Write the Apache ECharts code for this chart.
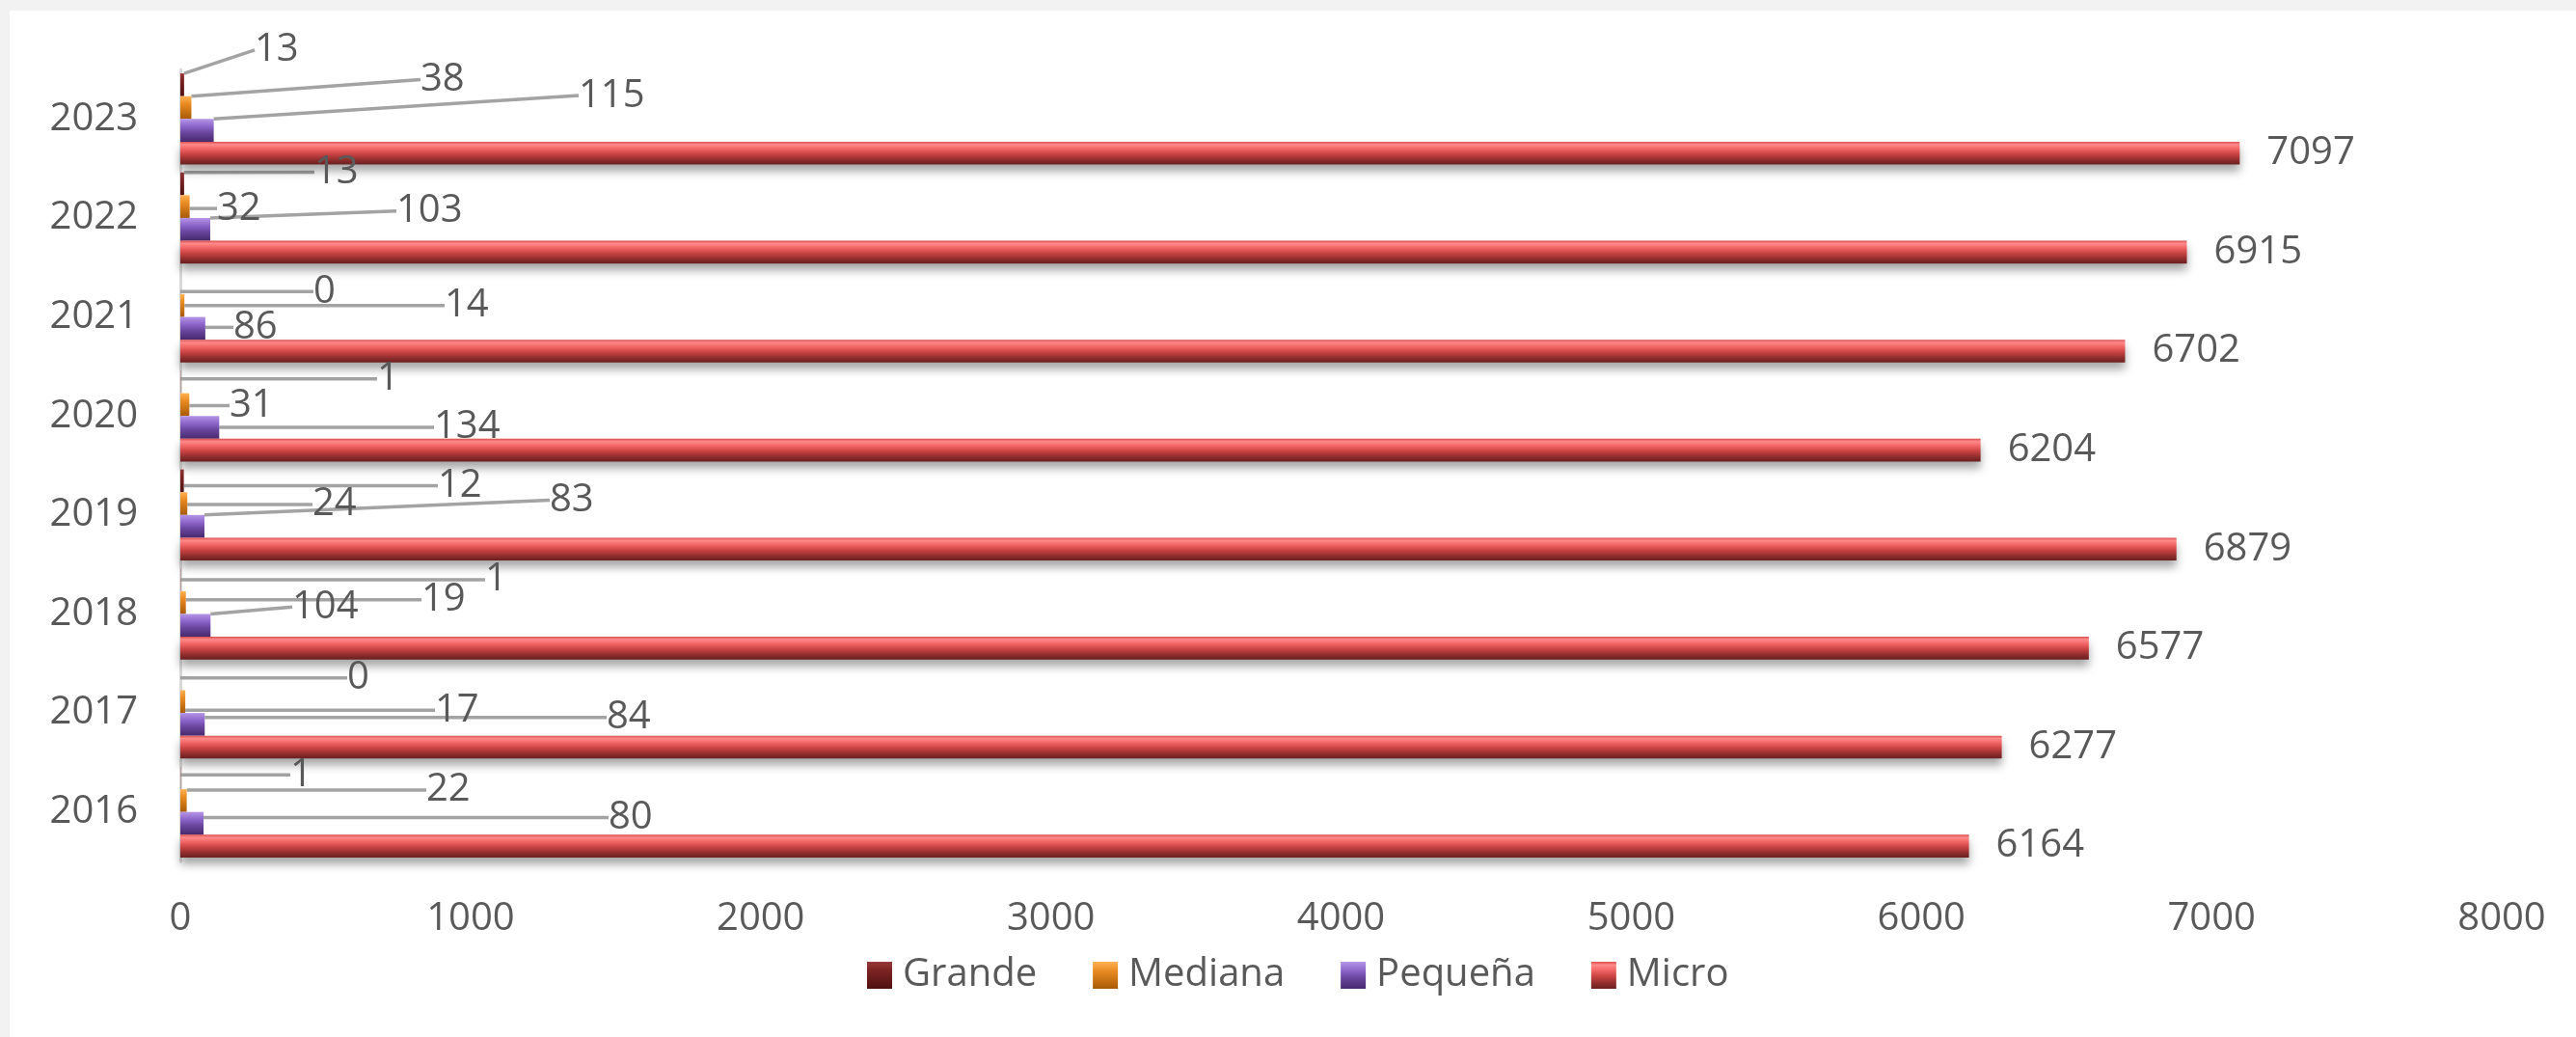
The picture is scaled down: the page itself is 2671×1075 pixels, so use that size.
<!DOCTYPE html>
<html><head><meta charset="utf-8">
<script src="https://cdn.jsdelivr.net/npm/echarts@6/dist/echarts.min.js"></script>
<style>
html,body{margin:0;padding:0;background:#f2f2f2;width:2671px;height:1075px;overflow:hidden}
#chart{position:absolute;left:10px;top:11px;width:2661px;height:1064px;background:#ffffff}
</style></head><body><div id="chart"></div>
<script>
const years = ['2016','2017','2018','2019','2020','2021','2022','2023'];
const grande = [1, 0, 1, 12, 1, 0, 13, 13];
const mediana = [22, 17, 19, 24, 31, 14, 32, 38];
const pequena = [80, 84, 104, 83, 134, 86, 103, 115];
const micro = [6164, 6277, 6577, 6879, 6204, 6702, 6915, 7097];
const seriesNames = ['Grande', 'Mediana', 'Pequeña', 'Micro'];

// label placement offsets (px from axis / from bar centre), per category
const grandeLblDx = [114, 173, 316, 267, 204, 138, 139, 77];
const grandeLblDy = [-3, -1, 0, 5, -3, 9, -12, -36];
const medianaLblDx = [255, 264, 250, 137, 51, 274, 38, 249];
const medianaLblDy = [-11, 9, -3, 1, 1, 0, 2, -29];
const pequenaLblDx = [444, 442, 116, 383, 263, 55, 224, 413];
const pequenaLblDy = [-6, -7, -19, -27, 0, -1, -19, -36];

const FONT = '"Open Sans", "Noto Sans", sans-serif';
const TXT = '#595959';

function grad(stops) {
  return new echarts.graphic.LinearGradient(0, 0, 0, 1,
    stops.map(function (s) { return { offset: s[0], color: s[1] }; }));
}
const colGrande = grad([[0,'#9a3a3a'],[0.3,'#7e2424'],[1,'#4e1010']]);
const colMediana = grad([[0,'#ffb255'],[0.35,'#e88a20'],[1,'#a85a08']]);
const colPequena = grad([[0,'#b495e6'],[0.35,'#8a62c8'],[0.6,'#6a469e'],[1,'#47296e']]);
const colMicro = grad([[0,'#d94d4d'],[0.12,'#ff8a8a'],[0.32,'#f06464'],[0.55,'#c94242'],[0.8,'#8f2d2d'],[1,'#6a1f1f']]);

function mkLayout(dxArr, dyArr) {
  return function (p) {
    return {
      x: p.rect.x + dxArr[p.dataIndex],
      y: p.rect.y + p.rect.height / 2 + dyArr[p.dataIndex],
      align: 'left',
      verticalAlign: 'middle'
    };
  };
}

const labelBase = { show: true, position: 'right', distance: 28, color: TXT, fontSize: 40, fontFamily: FONT };
const lineBase = { show: true, lineStyle: { color: '#a3a3a3', width: 3.5 } };

function smallSeries(name, data, color, dx, dy) {
  return {
    name: name, type: 'bar', data: data,
    itemStyle: { color: color },
    label: labelBase,
    labelLine: lineBase,
    labelLayout: mkLayout(dx, dy),
    barGap: '0%', barCategoryGap: '8%'
  };
}

const chart = echarts.init(document.getElementById('chart'));
chart.setOption({
  animation: false,
  grid: { left: 177, right: 77, top: 61, bottom: 182, containLabel: false },
  legend: {
    data: seriesNames,
    left: 884, top: 975,
    itemWidth: 26, itemHeight: 28, itemGap: 58,
    icon: 'rect',
    textStyle: { color: TXT, fontSize: 40, fontFamily: FONT, padding: [0, 0, 0, 6] }
  },
  xAxis: {
    type: 'value', min: 0, max: 8000, interval: 1000,
    axisLine: { show: false }, axisTick: { show: false }, splitLine: { show: false },
    axisLabel: { color: TXT, fontSize: 40, fontFamily: FONT, margin: 40,
      formatter: function (v) { return String(v); } }
  },
  yAxis: {
    type: 'category', data: years,
    axisLine: { show: true, lineStyle: { color: '#d9d9d9', width: 3 } },
    axisTick: { show: false },
    axisLabel: { color: TXT, fontSize: 40, fontFamily: FONT, margin: 44 }
  },
  series: [
    smallSeries('Grande', grande, colGrande, grandeLblDx, grandeLblDy),
    smallSeries('Mediana', mediana, colMediana, medianaLblDx, medianaLblDy),
    smallSeries('Pequeña', pequena, colPequena, pequenaLblDx, pequenaLblDy),
    {
      name: 'Micro', type: 'bar', data: micro,
      itemStyle: { color: colMicro, shadowColor: 'rgba(0,0,0,0.35)', shadowBlur: 10, shadowOffsetY: 7 },
      label: labelBase,
      barGap: '0%', barCategoryGap: '8%'
    }
  ]
});
</script></body></html>
